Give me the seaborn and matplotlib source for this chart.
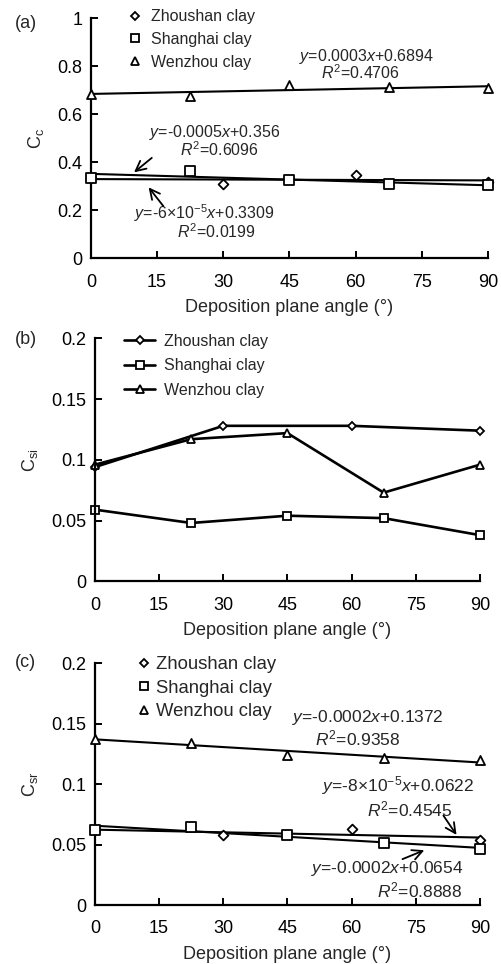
import numpy as np
import matplotlib
matplotlib.use('Agg')
import matplotlib.pyplot as plt
from matplotlib.ticker import FuncFormatter, MultipleLocator
from matplotlib.lines import Line2D
import seaborn as sns

# data
zs_x = [0, 30, 60, 90]
sh_x = [0, 22.5, 45, 67.5, 90]
wz_x = [0, 22.5, 45, 67.5, 90]

cc_zs = [0.336, 0.310, 0.346, 0.318]
cc_sh = [0.336, 0.365, 0.326, 0.310, 0.304]
cc_wz = [0.685, 0.678, 0.722, 0.712, 0.708]

csi_zs = [0.094, 0.128, 0.128, 0.124]
csi_sh = [0.059, 0.048, 0.054, 0.052, 0.038]
csi_wz = [0.096, 0.117, 0.122, 0.073, 0.096]

csr_zs = [0.0624, 0.058, 0.0627, 0.0536]
csr_sh = [0.0624, 0.065, 0.0578, 0.051, 0.0465]
csr_wz = [0.1376, 0.134, 0.1243, 0.122, 0.1197]

labels = ['Zhoushan clay', 'Shanghai clay', 'Wenzhou clay']
markers = ['D', 's', '^']
msizes = [5, 6.5, 6.5]

sns.set_style('ticks')
plt.rcParams['font.family'] = ['Liberation Sans', 'DejaVu Sans']
plt.rcParams['mathtext.fontset'] = 'custom'
plt.rcParams['mathtext.rm'] = 'Liberation Sans'
plt.rcParams['mathtext.it'] = 'Liberation Sans:italic'

fig = plt.figure(figsize=(5.02, 9.64), dpi=100)
ax_a = fig.add_axes([0.181, 0.732, 0.791, 0.249])
ax_b = fig.add_axes([0.189, 0.397, 0.767, 0.252])
ax_c = fig.add_axes([0.189, 0.061, 0.767, 0.251])

fmt = FuncFormatter(lambda v, p: '%g' % round(v, 4))


def style_axis(ax, ymax, ystep, ylabel):
    ax.set_xlim(0, 90)
    ax.set_ylim(0, ymax)
    ax.xaxis.set_major_locator(MultipleLocator(15))
    ax.yaxis.set_major_locator(MultipleLocator(ystep))
    ax.yaxis.set_major_formatter(fmt)
    sns.despine(ax=ax)
    for s in ['left', 'bottom']:
        ax.spines[s].set_linewidth(1.6)
        ax.spines[s].set_color('black')
    ax.tick_params(axis='x', direction='in', length=5, width=1.4, pad=11,
                   labelsize=13, colors='black')
    ax.tick_params(axis='y', direction='in', length=5, width=1.4, pad=6,
                   labelsize=13, colors='black')
    ax.set_xlabel('Deposition plane angle (°)', fontsize=13, labelpad=6)
    ax.set_ylabel(ylabel, fontsize=13, labelpad=8)


def scatter_fit(ax, xs_list, ys_list):
    for xs, ys in zip(xs_list, ys_list):
        sns.regplot(x=np.array(xs, float), y=np.array(ys), ax=ax, ci=None,
                    scatter=False, truncate=True, color='black',
                    line_kws=dict(lw=1.5, zorder=2))
    for xs, ys, m, ms, lab in zip(xs_list, ys_list, markers, msizes, labels):
        sns.scatterplot(x=xs, y=ys, ax=ax, marker=m, s=ms ** 2,
                        facecolor='white', edgecolor='black', linewidth=1.3,
                        clip_on=False, zorder=3, label=lab)


def marker_legend(ax, x0, y0, spacing, textpad, size):
    handles = [Line2D([], [], ls='none', marker=m, ms=ms - 1, mfc='white',
                      mec='black', mew=1.3) for m, ms in zip(markers, msizes)]
    ax.legend(handles, labels, loc='upper left', bbox_to_anchor=(x0, y0),
              frameon=False, fontsize=size, handlelength=0.8,
              handletextpad=textpad, labelspacing=spacing, borderaxespad=0)


kw = dict(fontsize=11.5, ha='center', va='center')
kw_c = dict(fontsize=12.5, ha='center', va='center')
arw = dict(arrowstyle='->', lw=1.3, color='black', mutation_scale=18)

# (a)
scatter_fit(ax_a, [zs_x, sh_x, wz_x], [cc_zs, cc_sh, cc_wz])
style_axis(ax_a, 1, 0.2, r'$\mathrm{C_{c}}$')
marker_legend(ax_a, 0.08, 1.065, 0.5, 0.6, 11.5)
ax_a.text(62.5, 0.843, r'$y$=0.0003$x$+0.6894', **kw)
ax_a.text(61, 0.772, r'$R^2$=0.4706', **kw)
ax_a.text(28.1, 0.526, r'$y$=-0.0005$x$+0.356', **kw)
ax_a.text(29.2, 0.451, r'$R^2$=0.6096', **kw)
ax_a.text(25.8, 0.190, r'$y$=-6×10$^{-5}$$x$+0.3309', **kw)
ax_a.text(28.5, 0.110, r'$R^2$=0.0199', **kw)
ax_a.annotate('', xy=(9.3, 0.351), xytext=(14.3, 0.426), arrowprops=arw)
ax_a.annotate('', xy=(12.7, 0.305), xytext=(16.8, 0.209), arrowprops=arw)
fig.text(0.03, 0.976, '(a)', fontsize=13, va='center')

# (b)
for xs, ys, m, ms, lab in zip([zs_x, sh_x, wz_x], [csi_zs, csi_sh, csi_wz],
                              markers, msizes, labels):
    sns.lineplot(x=xs, y=ys, ax=ax_b, color='black', lw=1.9, marker=m,
                 markersize=ms - 0.5, markerfacecolor='white',
                 markeredgecolor='black', markeredgewidth=1.3, clip_on=False,
                 label=lab)
style_axis(ax_b, 0.2, 0.05, r'$\mathrm{C_{si}}$')
ax_b.legend(loc='upper left', bbox_to_anchor=(0.06, 1.045), frameon=False,
            fontsize=11.5, handlelength=1.9, handletextpad=0.6,
            labelspacing=0.6, borderaxespad=0)
fig.text(0.03, 0.648, '(b)', fontsize=13, va='center')

# (c)
scatter_fit(ax_c, [zs_x, sh_x, wz_x], [csr_zs, csr_sh, csr_wz])
style_axis(ax_c, 0.2, 0.05, r'$\mathrm{C_{sr}}$')
marker_legend(ax_c, 0.09, 1.06, 0.35, 0.25, 13.3)
ax_c.text(63.8, 0.1550, r'$y$=-0.0002$x$+0.1372', **kw_c)
ax_c.text(61.5, 0.1375, r'$R^2$=0.9358', **kw_c)
ax_c.text(70.9, 0.0990, r'$y$=-8×10$^{-5}$$x$+0.0622', **kw_c)
ax_c.text(73.6, 0.0795, r'$R^2$=0.4545', **kw_c)
ax_c.text(68.3, 0.0300, r'$y$=-0.0002$x$+0.0654', **kw_c)
ax_c.text(76, 0.0125, r'$R^2$=0.8888', **kw_c)
ax_c.annotate('', xy=(84.9, 0.0562), xytext=(81.1, 0.076), arrowprops=arw)
ax_c.annotate('', xy=(77.6, 0.0463), xytext=(71.3, 0.0372), arrowprops=arw)
fig.text(0.03, 0.313, '(c)', fontsize=13, va='center')

fig.savefig('out.png', dpi=100)
